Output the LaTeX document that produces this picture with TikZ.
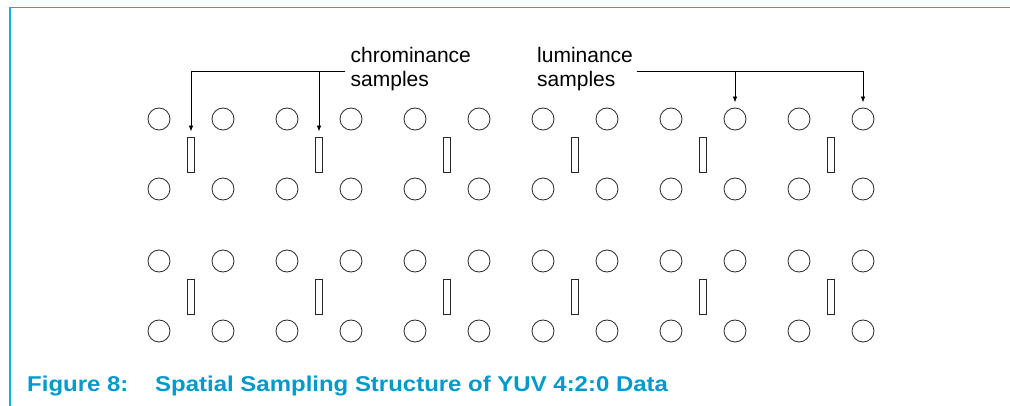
\documentclass[tikz,border=0pt]{standalone}
\usepackage{fontspec}
\setmainfont{Liberation Sans}
\usetikzlibrary{arrows.meta}
\definecolor{framecyan}{RGB}{20,176,220}
\definecolor{capcyan}{RGB}{0,153,204}
\definecolor{ink}{RGB}{40,40,40}
\begin{document}
\begin{tikzpicture}[x=1pt,y=-1pt,
  lum/.style={circle,draw=ink,line width=0.8pt,minimum size=22pt,inner sep=0pt},
  chroma/.style={rectangle,draw=ink,line width=0.8pt,minimum width=7.5pt,minimum height=35pt,inner sep=0pt},
  lbl/.style={align=left,inner sep=0pt,anchor=north west,font=\fontsize{21}{23.5}\selectfont},
  ptr/.style={draw=black,line width=0.8pt,-{Latex[length=6pt,width=4.5pt]}},
  frameline/.style={draw=framecyan,line width=1.3pt}]
\useasboundingbox (0,0) rectangle (1010,406);
% frame
\coordinate (ftl) at (10,7.5);
\coordinate (ftr) at (1010,7.5);
\coordinate (fbl) at (10,406);
\draw[frameline] (ftr) -- (ftl) -- (fbl);
% luminance samples
\foreach \r/\y in {1/119,2/189,3/261,4/331}{
  \foreach \c in {1,...,12}{
    \node[lum] (l\r-\c) at ({159+64*(\c-1)},\y) {};
  }
}
% chrominance samples
\foreach \r/\y in {1/155,2/296.5}{
  \foreach \c in {1,...,6}{
    \node[chroma] (k\r-\c) at ({191+128*(\c-1)},\y) {};
  }
}
% labels
\node[lbl] (chl) at (350.5,47.5) {chrominance\\samples};
\node[lbl] (lul) at (537,47.5) {luminance\\samples};
% connectors
\coordinate (cha) at (345,71.5);
\coordinate (lua) at (636.5,71.5);
\draw[ptr,shorten >=5.5pt] (cha) -| (k1-1.north);
\draw[ptr,shorten >=5.5pt] (cha -| k1-2.north) -- (k1-2.north);
\draw[ptr,shorten >=5pt] (lua) -| (l1-12.north);
\draw[ptr,shorten >=5pt] (lua -| l1-10.north) -- (l1-10.north);
% caption
\node[anchor=base west,inner sep=0pt,text=capcyan,xscale=1.12,font=\fontsize{21.4}{24}\selectfont\bfseries] (cap) at (27,391.7)
  {\makebox[114.3pt][l]{Figure 8:}Spatial Sampling Structure of YUV 4:2:0 Data};
\end{tikzpicture}
\end{document}
